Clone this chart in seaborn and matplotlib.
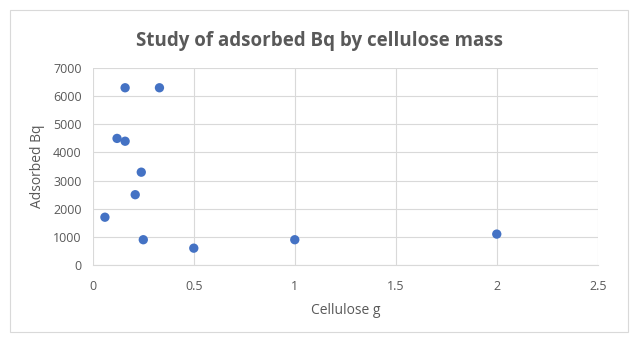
import matplotlib
matplotlib.use("Agg")
import matplotlib.pyplot as plt
import seaborn as sns
import pandas as pd
from matplotlib.patches import Rectangle

cellulose_g = [0.16, 0.33, 0.12, 0.16, 0.24, 0.21, 0.06, 0.25, 0.5, 1.0, 2.0]
adsorbed_bq = [6300, 6300, 4500, 4400, 3300, 2500, 1700, 900, 600, 900, 1100]
x_ticks = [0, 0.5, 1, 1.5, 2, 2.5]
x_tick_labels = ["0", "0.5", "1", "1.5", "2", "2.5"]
y_ticks = [0, 1000, 2000, 3000, 4000, 5000, 6000, 7000]

df = pd.DataFrame({"Cellulose g": cellulose_g, "Adsorbed Bq": adsorbed_bq})

sns.set_style("white")
plt.rcParams["font.family"] = ["Open Sans", "DejaVu Sans"]

fig = plt.figure(figsize=(6.4, 3.42), dpi=100)
ax = fig.add_axes([0.145, 0.225, 0.789, 0.576])

sns.scatterplot(data=df, x="Cellulose g", y="Adsorbed Bq", ax=ax,
                color="#4472C4", s=45, edgecolor="none", zorder=3)

ax.set_xlim(0, 2.5)
ax.set_ylim(0, 7000)
ax.set_xticks(x_ticks)
ax.set_xticklabels(x_tick_labels)
ax.set_yticks(y_ticks)
ax.grid(True, color="#D9D9D9", linewidth=0.8)
for s in ["top", "right", "left"]:
    ax.spines[s].set_visible(False)
ax.spines["bottom"].set_color("#D9D9D9")
ax.tick_params(axis="both", length=0, labelsize=9, labelcolor="#595959")
ax.tick_params(axis="x", pad=11)
ax.tick_params(axis="y", pad=8)
ax.set_xlabel("Cellulose g", fontsize=10, color="#595959", labelpad=7)
ax.set_ylabel("Adsorbed Bq", fontsize=10, color="#595959", labelpad=6)

fig.text(0.5, 0.88, "Study of adsorbed Bq by cellulose mass", ha="center",
         va="center", fontsize=13.5, fontweight="bold", color="#595959")

fig.patches.append(Rectangle((10/640, 10/342), 618/640, 322/342,
                             transform=fig.transFigure, fill=False,
                             edgecolor="#D9D9D9", linewidth=0.8))

fig.savefig("out.png", dpi=100)
